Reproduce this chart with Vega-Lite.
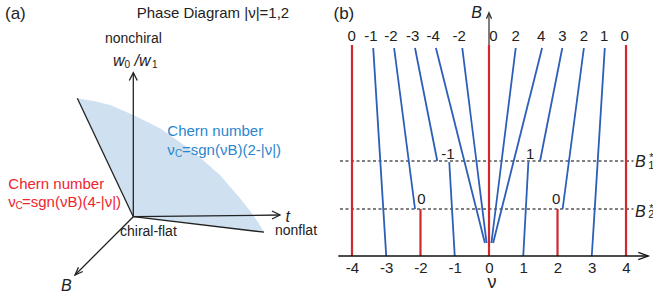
{
"$schema": "https://vega.github.io/schema/vega-lite/v6.json",
"padding": 0,
"spacing": 0,
"bounds": "flush",
"background": "white",
"config": {"view": {"stroke": null}, "font": "Liberation Sans", "text": {"font": "Liberation Sans"}},
"datasets": {
"aShade": [
{"x":77.3,"y":98.3,"y2":98.3},{"x":95,"y":101.3,"y2":135.7},{"x":110,"y":105,"y2":167.4},{"x":133.3,"y":115,"y2":216.7},{"x":160,"y":128.3,"y2":219.9},{"x":193.3,"y":151.7,"y2":223.8},{"x":220,"y":175,"y2":227},{"x":240,"y":198.3,"y2":229.3},{"x":253.3,"y":215,"y2":230.9},{"x":264,"y":231.7,"y2":232.2}
],
"aLines": [
{"g":"w","o":0,"x":133.3,"y":216.7},{"g":"w","o":1,"x":133.3,"y":72.7},
{"g":"wh","o":0,"x":129.3,"y":80.5},{"g":"wh","o":1,"x":133.3,"y":72.7},{"g":"wh","o":2,"x":137.3,"y":80.5},
{"g":"t","o":0,"x":133.3,"y":216.7},{"g":"t","o":1,"x":280,"y":215},
{"g":"th","o":0,"x":272,"y":211},{"g":"th","o":1,"x":280,"y":215},{"g":"th","o":2,"x":272,"y":219},
{"g":"b","o":0,"x":133.3,"y":216.7},{"g":"b","o":1,"x":75,"y":275},
{"g":"bh","o":0,"x":78.5,"y":267.2},{"g":"bh","o":1,"x":75,"y":275},{"g":"bh","o":2,"x":82.8,"y":271.5},
{"g":"e1","o":0,"x":77.3,"y":98.3},{"g":"e1","o":1,"x":133.3,"y":216.7},
{"g":"e2","o":0,"x":133.3,"y":216.7},{"g":"e2","o":1,"x":264,"y":232.2}
],
"aText": [
{"k":"title","x":136.7,"y":13,"t":"Phase Diagram |ν|=1,2"},
{"k":"panel","x":5,"y":14,"t":"(a)"},
{"k":"label","x":105,"y":38.5,"t":"nonchiral"},
{"k":"label","x":120,"y":232,"t":"chiral-flat"},
{"k":"label","x":275,"y":230.5,"t":"nonflat"},
{"k":"var","x":113,"y":60.5,"t":"w"},
{"k":"var","x":134.5,"y":60.5,"t":"/w"},
{"k":"var","x":285.5,"y":217,"t":"t"},
{"k":"var","x":61,"y":285.5,"t":"B"},
{"k":"sub","x":124.5,"y":64.5,"t":"0"},
{"k":"sub","x":152,"y":64.5,"t":"1"},
{"k":"blue","x":167.3,"y":131,"t":"Chern number"},
{"k":"blue","x":167.3,"y":150,"t":"ν"},
{"k":"blue","x":182,"y":150,"t":"=sgn(νB)(2-|ν|)"},
{"k":"bluesub","x":175,"y":154,"t":"C"},
{"k":"red","x":8.3,"y":183.5,"t":"Chern number"},
{"k":"red","x":8.3,"y":202,"t":"ν"},
{"k":"red","x":22,"y":202,"t":"=sgn(νB)(4-|ν|)"},
{"k":"redsub","x":15.5,"y":206,"t":"C"}
],
"bBlue": [
{"g":1,"o":0,"nu":-3.38,"B":208},{"g":1,"o":1,"nu":-3,"B":0},
{"g":2,"o":0,"nu":-2.77,"B":208},{"g":2,"o":1,"nu":-2.16,"B":47},
{"g":3,"o":0,"nu":-2.16,"B":208},{"g":3,"o":1,"nu":-1.51,"B":95},
{"g":4,"o":0,"nu":-1.16,"B":94},{"g":4,"o":1,"nu":-1,"B":0},
{"g":5,"o":0,"nu":-1.55,"B":208},{"g":5,"o":1,"nu":-0.12,"B":13},
{"g":6,"o":0,"nu":-0.78,"B":208},{"g":6,"o":1,"nu":-0.07,"B":13},
{"g":7,"o":0,"nu":0.78,"B":208},{"g":7,"o":1,"nu":0.07,"B":13},
{"g":8,"o":0,"nu":1.55,"B":208},{"g":8,"o":1,"nu":0.12,"B":13},
{"g":9,"o":0,"nu":2.14,"B":208},{"g":9,"o":1,"nu":1.49,"B":95},
{"g":10,"o":0,"nu":1.15,"B":94},{"g":10,"o":1,"nu":1,"B":0},
{"g":11,"o":0,"nu":2.77,"B":208},{"g":11,"o":1,"nu":2.15,"B":47},
{"g":12,"o":0,"nu":3.38,"B":208},{"g":12,"o":1,"nu":3,"B":0}
],
"bRed": [
{"nu":-4,"B":0,"B2":211},{"nu":0,"B":0,"B2":211},{"nu":4,"B":0,"B2":211},{"nu":-2,"B":0,"B2":47},{"nu":2,"B":0,"B2":47}
],
"bGray": [{"nu":0,"B":211,"B2":243}],
"bHeads": [
{"g":"Bhead","o":0,"nu":-0.075,"B":237.3},{"g":"Bhead","o":1,"nu":0,"B":243.3},{"g":"Bhead","o":2,"nu":0.075,"B":237.3}
],
"bNuHead": [
{"g":"nuhead","o":0,"nu":4.36,"B":3.7},{"g":"nuhead","o":1,"nu":4.65,"B":0},{"g":"nuhead","o":2,"nu":4.36,"B":-3.7}
],
"bDash": [{"nu":-4.35,"nu2":4.22,"B":95},{"nu":-4.35,"nu2":4.22,"B":47}],
"bAxis": [{"nu":-4.4,"nu2":4.65,"B":0}],
"bText": [
{"k":"top","nu":-4.01,"B":220,"t":"0"},
{"k":"top","nu":-3.45,"B":220,"t":"-1"},
{"k":"top","nu":-2.86,"B":220,"t":"-2"},
{"k":"top","nu":-2.23,"B":220,"t":"-3"},
{"k":"top","nu":-1.63,"B":220,"t":"-4"},
{"k":"top","nu":-0.87,"B":220,"t":"-2"},
{"k":"top","nu":0.13,"B":220,"t":"0"},
{"k":"top","nu":0.78,"B":220,"t":"2"},
{"k":"top","nu":1.52,"B":220,"t":"4"},
{"k":"top","nu":2.14,"B":220,"t":"3"},
{"k":"top","nu":2.77,"B":220,"t":"2"},
{"k":"top","nu":3.36,"B":220,"t":"1"},
{"k":"top","nu":3.96,"B":220,"t":"0"},
{"k":"top","nu":-1.2,"B":102.5,"t":"-1"},
{"k":"top","nu":1.2,"B":102.5,"t":"1"},
{"k":"top","nu":-1.97,"B":57.5,"t":"0"},
{"k":"top","nu":1.96,"B":57.5,"t":"0"},
{"k":"var","nu":-0.36,"B":243.4,"t":"B"},
{"k":"var","nu":4.42,"B":94,"t":"B"},
{"k":"var","nu":4.42,"B":44.5,"t":"B"},
{"k":"small","nu":4.74,"B":98,"t":"*"},
{"k":"small","nu":4.74,"B":90.5,"t":"1"},
{"k":"small","nu":4.74,"B":47.5,"t":"*"},
{"k":"small","nu":4.74,"B":41,"t":"2"}
],
"bPanel": [{"nu":-4.54,"B":242,"t":"(b)"}]
},
"hconcat": [
{
"width": 330, "height": 304,
"encoding": {
"x": {"field": "x", "type": "quantitative", "scale": {"domain": [0, 330], "nice": false, "zero": false}, "axis": null},
"y": {"field": "y", "type": "quantitative", "scale": {"domain": [0, 304], "nice": false, "zero": false, "reverse": true}, "axis": null}
},
"layer": [
{"data": {"name": "aShade"}, "mark": {"type": "area", "color": "#cfe1f0", "opacity": 1}, "encoding": {"y2": {"field": "y2"}}},
{"data": {"name": "aLines"}, "mark": {"type": "line", "color": "#222222", "strokeWidth": 1.3}, "encoding": {"detail": {"field": "g"}, "order": {"field": "o"}}},
{"data": {"name": "aText"}, "transform": [{"filter": "datum.k == 'title'"}], "mark": {"type": "text", "align": "left", "baseline": "middle", "fontSize": 15, "color": "#222222"}, "encoding": {"text": {"field": "t"}}},
{"data": {"name": "aText"}, "transform": [{"filter": "datum.k == 'panel'"}], "mark": {"type": "text", "align": "left", "baseline": "middle", "fontSize": 17, "color": "#222222"}, "encoding": {"text": {"field": "t"}}},
{"data": {"name": "aText"}, "transform": [{"filter": "datum.k == 'label'"}], "mark": {"type": "text", "align": "left", "baseline": "middle", "fontSize": 14, "color": "#222222"}, "encoding": {"text": {"field": "t"}}},
{"data": {"name": "aText"}, "transform": [{"filter": "datum.k == 'var'"}], "mark": {"type": "text", "align": "left", "baseline": "middle", "fontSize": 16, "fontStyle": "italic", "color": "#222222"}, "encoding": {"text": {"field": "t"}}},
{"data": {"name": "aText"}, "transform": [{"filter": "datum.k == 'sub'"}], "mark": {"type": "text", "align": "left", "baseline": "middle", "fontSize": 10, "color": "#222222"}, "encoding": {"text": {"field": "t"}}},
{"data": {"name": "aText"}, "transform": [{"filter": "datum.k == 'blue'"}], "mark": {"type": "text", "align": "left", "baseline": "middle", "fontSize": 15, "color": "#2a86d0"}, "encoding": {"text": {"field": "t"}}},
{"data": {"name": "aText"}, "transform": [{"filter": "datum.k == 'bluesub'"}], "mark": {"type": "text", "align": "left", "baseline": "middle", "fontSize": 10, "color": "#2a86d0"}, "encoding": {"text": {"field": "t"}}},
{"data": {"name": "aText"}, "transform": [{"filter": "datum.k == 'red'"}], "mark": {"type": "text", "align": "left", "baseline": "middle", "fontSize": 15, "color": "#ee2530"}, "encoding": {"text": {"field": "t"}}},
{"data": {"name": "aText"}, "transform": [{"filter": "datum.k == 'redsub'"}], "mark": {"type": "text", "align": "left", "baseline": "middle", "fontSize": 10, "color": "#ee2530"}, "encoding": {"text": {"field": "t"}}}
]
},
{
"width": 323, "height": 256,
"encoding": {
"x": {"field": "nu", "type": "quantitative", "scale": {"domain": [-4.642, 4.788], "nice": false, "zero": false},
 "axis": {"values": [-4, -3, -2, -1, 0, 1, 2, 3, 4], "domain": false, "ticks": false, "grid": false, "labelPadding": 4, "labelFontSize": 15, "labelColor": "#222222", "labelFont": "Liberation Sans", "labelExpr": "'' + datum.value", "labelFlush": false, "labelOverlap": false, "title": "ν", "titleFontSize": 18, "titleFontWeight": "normal", "titleFont": "Liberation Sans", "titleColor": "#222222", "titlePadding": -2}},
"y": {"field": "B", "type": "quantitative", "scale": {"domain": [0, 256], "nice": false, "zero": false}, "axis": null}
},
"layer": [
{"data": {"name": "bDash"}, "mark": {"type": "rule", "color": "#000000", "strokeWidth": 1.1, "strokeDash": [3, 2.5]}, "encoding": {"x2": {"field": "nu2"}}},
{"data": {"name": "bBlue"}, "mark": {"type": "line", "color": "#2c5fb8", "strokeWidth": 1.8}, "encoding": {"detail": {"field": "g"}, "order": {"field": "o"}}},
{"data": {"name": "bRed"}, "mark": {"type": "rule", "color": "#d0282c", "strokeWidth": 2.2}, "encoding": {"y2": {"field": "B2"}}},
{"data": {"name": "bGray"}, "mark": {"type": "rule", "color": "#555555", "strokeWidth": 1.5}, "encoding": {"y2": {"field": "B2"}}},
{"data": {"name": "bHeads"}, "mark": {"type": "line", "color": "#333333", "strokeWidth": 1.3}, "encoding": {"detail": {"field": "g"}, "order": {"field": "o"}}},
{"data": {"name": "bAxis"}, "mark": {"type": "rule", "color": "#111111", "strokeWidth": 1.6}, "encoding": {"x2": {"field": "nu2"}}},
{"data": {"name": "bNuHead"}, "mark": {"type": "line", "color": "#111111", "strokeWidth": 1.3}, "encoding": {"detail": {"field": "g"}, "order": {"field": "o"}}},
{"data": {"name": "bText"}, "transform": [{"filter": "datum.k == 'top'"}], "mark": {"type": "text", "align": "center", "baseline": "middle", "fontSize": 15, "color": "#222222"}, "encoding": {"text": {"field": "t"}}},
{"data": {"name": "bText"}, "transform": [{"filter": "datum.k == 'var'"}], "mark": {"type": "text", "align": "center", "baseline": "middle", "fontSize": 16, "fontStyle": "italic", "color": "#222222"}, "encoding": {"text": {"field": "t"}}},
{"data": {"name": "bText"}, "transform": [{"filter": "datum.k == 'small'"}], "mark": {"type": "text", "align": "center", "baseline": "middle", "fontSize": 11, "color": "#222222"}, "encoding": {"text": {"field": "t"}}},
{"data": {"name": "bPanel"}, "mark": {"type": "text", "align": "left", "baseline": "middle", "fontSize": 17, "color": "#222222"}, "encoding": {"text": {"field": "t"}}}
]
}
]
}
